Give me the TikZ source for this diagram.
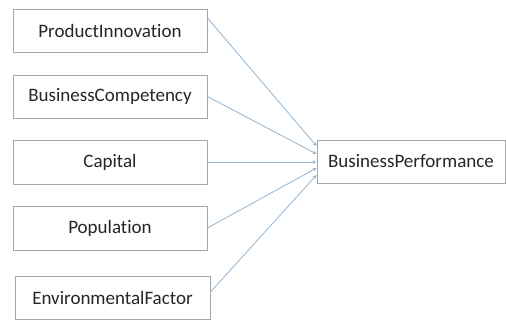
\documentclass[tikz,border=0pt]{standalone}
\usepackage{fontspec}
\setmainfont{Carlito}[Ligatures={NoCommon}]
\usetikzlibrary{arrows.meta}
\definecolor{boxgray}{HTML}{A6A6A6}
\definecolor{linkblue}{HTML}{94B4D4}
\definecolor{txt}{HTML}{262626}
\begin{document}
\begin{tikzpicture}[x=1pt,y=-1pt,
  box/.style={draw=boxgray,line width=0.9pt,minimum width=194pt,minimum height=43pt,inner sep=0pt,font=\fontsize{19}{22}\selectfont,text=txt},
  link/.style={draw=linkblue,line width=0.8pt,-{Stealth[length=4pt,width=3.5pt]}}]
\useasboundingbox[fill=white] (0,0) rectangle (506,320);
\node[box] (pi) at (110,30.5) {ProductInnovation};
\node[box] (bc) at (110,96.5) {BusinessCompetency};
\node[box,minimum height=44pt] (cap) at (110,162) {Capital};
\node[box,minimum height=44pt] (pop) at (110,228) {Population};
\node[box,minimum width=195pt] (ef) at (112.5,297.5) {EnvironmentalFactor};
\node[box,minimum width=188pt] (bp) at (411,161.5) {BusinessPerformance};
\coordinate (t1) at (bp.west |- 0,146);
\coordinate (t2) at (bp.west |- 0,154);
\coordinate (t3) at (bp.west |- 0,162);
\coordinate (t4) at (bp.west |- 0,168);
\coordinate (t5) at (bp.west |- 0,175);
\draw[link] (pi.east |- 0,18) -- (t1);
\draw[link] (bc.east) -- (t2);
\draw[link] (cap.east) -- (t3);
\draw[link] (pop.east) -- (t4);
\draw[link] (ef.east |- 0,292) -- (t5);
\end{tikzpicture}
\end{document}
